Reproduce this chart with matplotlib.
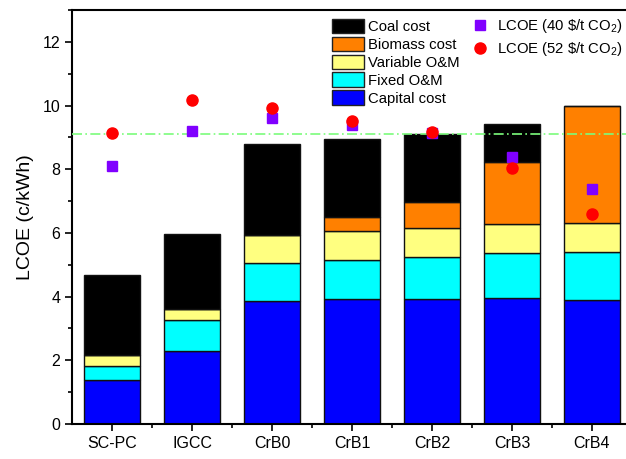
import matplotlib
matplotlib.use("Agg")
import matplotlib.pyplot as plt
import numpy as np
from matplotlib.patches import Patch
from matplotlib.lines import Line2D
from matplotlib.ticker import MultipleLocator, FixedLocator

plt.rcParams['font.family'] = ['Liberation Sans', 'DejaVu Sans']
plt.rcParams['mathtext.fontset'] = 'custom'
plt.rcParams['mathtext.rm'] = 'Liberation Sans'
plt.rcParams['mathtext.it'] = 'Liberation Sans'

categories = ["SC-PC", "IGCC", "CrB0", "CrB1", "CrB2", "CrB3", "CrB4"]
capital = [1.38, 2.30, 3.86, 3.93, 3.93, 3.95, 3.90]
fixed_om = [0.44, 0.97, 1.18, 1.22, 1.31, 1.42, 1.51]
variable_om = [0.35, 0.33, 0.89, 0.90, 0.91, 0.91, 0.90]
biomass = [0.0, 0.0, 0.0, 0.44, 0.81, 1.94, 3.66]
coal = [2.50, 2.38, 2.85, 2.47, 2.14, 1.20, 0.0]
lcoe_40 = [8.10, 9.20, 9.62, 9.39, 9.13, 8.37, 7.37]
lcoe_52 = [9.13, 10.17, 9.92, 9.50, 9.18, 8.05, 6.59]
ref_line = 9.11

fig = plt.figure(figsize=(6.26, 4.59), dpi=100)
ax = fig.add_axes([72/626, 35/459, 560/626, 414/459])

x = np.arange(1, len(categories) + 1)
w = 0.7
series = [
    (capital, "#0000FF", "Capital cost"),
    (fixed_om, "#00FFFF", "Fixed O&M"),
    (variable_om, "#FFFF80", "Variable O&M"),
    (biomass, "#FF8000", "Biomass cost"),
    (coal, "#000000", "Coal cost"),
]
bottom = np.zeros(len(categories))
for vals, col, lab in series:
    v = np.array(vals)
    ax.bar(x, v, w, bottom=bottom, color=col, edgecolor="#111111", linewidth=1.0, zorder=2)
    bottom += v

ax.axhline(ref_line, color="#7CFC7C", linestyle=(0, (6, 2, 1, 2)), linewidth=1.2, zorder=3)

ax.plot(x, lcoe_40, linestyle="none", marker="s", markersize=7, color="#8000FF", zorder=4)
ax.plot(x, lcoe_52, linestyle="none", marker="o", markersize=8, color="#FF0000", zorder=5)

ax.set_xlim(0.5, 7.5)
ax.set_ylim(0, 13)
ax.yaxis.set_major_locator(FixedLocator([0, 2, 4, 6, 8, 10, 12]))
ax.yaxis.set_minor_locator(MultipleLocator(1))
ax.set_xticks(x)
ax.set_xticklabels(categories)
ax.xaxis.set_minor_locator(FixedLocator(np.arange(1.5, 7.5, 1)))
ax.tick_params(axis='both', which='major', direction='out', length=5, width=1.2, labelsize=11.5)
ax.tick_params(axis='both', which='minor', direction='out', length=3, width=1.2)
for s in ax.spines.values():
    s.set_linewidth(1.5)
ax.set_ylabel("LCOE (c/kWh)", fontsize=14, labelpad=6)

handles1 = [Patch(facecolor=c, edgecolor="#222222", linewidth=1.0, label=l) for _, c, l in series[::-1]]
leg1 = fig.legend(handles=handles1, loc="upper left", bbox_to_anchor=(323/626, 1 - 10/459),
                  frameon=False, fontsize=10.7, handlelength=2.15, handleheight=1.1,
                  labelspacing=0.18, handletextpad=0.3, borderpad=0.1)
handles2 = [
    Line2D([], [], linestyle="none", marker="s", markersize=7, color="#8000FF", label="LCOE (40 \\$/t CO$_2$)"),
    Line2D([], [], linestyle="none", marker="o", markersize=8, color="#FF0000", label="LCOE (52 \\$/t CO$_2$)"),
]
leg2 = fig.legend(handles=handles2, loc="upper left", bbox_to_anchor=(461/626, 1 - 8/459),
                  frameon=False, fontsize=10.7, handlelength=1.4, labelspacing=0.35,
                  handletextpad=0.4, borderpad=0.1)

fig.savefig("out.png", dpi=100)
